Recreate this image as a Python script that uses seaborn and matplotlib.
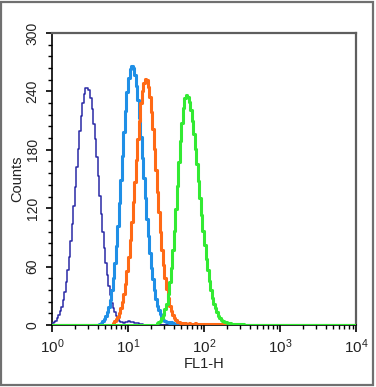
import numpy as np
import pandas as pd
import matplotlib
matplotlib.use("Agg")
import matplotlib.pyplot as plt
from matplotlib.patches import Rectangle
from matplotlib.ticker import LogLocator, MultipleLocator, NullFormatter
import seaborn as sns

# ---- data: histogram counts per channel bin (log10 scale, 0..4 decades, 200 bins) ----
n_bins = 200
log_lo, log_hi = 0.0, 4.0

navy_start = 0     # first bin index
navy_counts = [2, 3, 4, 7, 10, 14, 19, 26, 34, 44, 56, 70, 86, 104, 122, 142, 162,
               181, 199, 215, 228, 237, 243, 244, 241, 233, 222, 207, 191, 173, 153,
               133, 114, 96, 79, 64, 51, 40, 31, 23, 17, 13, 9, 6, 4, 3, 3, 2, 3, 3,
               4, 3, 3, 3, 2, 2, 2, 1, 1, 1]

lightblue_start = 31
lightblue_counts = [1, 2, 4, 6, 9, 13, 18, 26, 36, 48, 64, 81, 102, 125, 149, 174,
                    198, 220, 239, 254, 263, 266, 264, 257, 246, 231, 213, 193, 172,
                    151, 130, 109, 91, 74, 59, 47, 36, 27, 20, 15, 11, 8, 5, 4, 3, 3,
                    2, 3, 2, 1, 1]

orange_start = 40
orange_counts = [2, 4, 6, 8, 12, 17, 24, 32, 42, 55, 70, 87, 106, 126, 147, 170, 191,
                 210, 228, 240, 249, 253, 252, 245, 234, 219, 201, 181, 159, 137, 116,
                 96, 77, 62, 48, 37, 28, 20, 14, 10, 7, 5, 3, 3, 2, 2, 1, 2, 1, 1, 2,
                 1, 1, 1, 2, 1, 1, 1, 1, 1, 1, 1, 1, 1, 1, 1, 1, 1, 1, 1, 1, 1, 1, 1]

green_start = 69
green_counts = [2, 3, 4, 7, 10, 16, 22, 32, 44, 59, 77, 97, 119, 143, 167, 189, 208,
                223, 233, 236, 234, 229, 221, 210, 196, 181, 165, 148, 130, 113, 97,
                82, 68, 56, 45, 36, 28, 22, 17, 13, 9, 7, 5, 4, 3, 3, 2, 2, 2, 1, 1,
                1, 1, 1, 1, 1, 1]

series_names = ["navy", "lightblue", "orange", "green"]
series_colors = ["#2a2aa6", "#1f8fe6", "#ff6a16", "#33ea33"]
series_widths = [1.1, 2.2, 2.2, 2.2]

yticks_major = [0, 60, 120, 180, 240, 300]
x_label = "FL1-H"
y_label = "Counts"

# ---- build long table ----
centers = log_lo + (np.arange(n_bins) + 0.5) * (log_hi - log_lo) / n_bins
rows = []
for name, start, counts in [("navy", navy_start, navy_counts),
                            ("lightblue", lightblue_start, lightblue_counts),
                            ("orange", orange_start, orange_counts),
                            ("green", green_start, green_counts)]:
    full = np.zeros(n_bins)
    full[start:start + len(counts)] = counts
    for c, v in zip(centers, full):
        rows.append({"series": name, "fl1": 10 ** c, "count": v})
df = pd.DataFrame(rows)

# ---- style ----
sns.set_style("ticks")
plt.rcParams["font.family"] = ["Liberation Sans", "DejaVu Sans"]
plt.rcParams["mathtext.fontset"] = "custom"
plt.rcParams["mathtext.rm"] = "Liberation Sans"
plt.rcParams["mathtext.it"] = "Liberation Sans"
plt.rcParams["mathtext.default"] = "regular"

fig = plt.figure(figsize=(3.76, 3.87), dpi=100)
ax = fig.add_axes([52 / 376, 1 - 325 / 387, (356 - 52) / 376, (325 - 33) / 387])

for name, color, lw in zip(series_names, series_colors, series_widths):
    sub = df[df["series"] == name]
    sns.histplot(data=sub, x="fl1", weights="count", bins=n_bins,
                 binrange=(log_lo, log_hi), log_scale=True, element="step",
                 fill=False, color=color, linewidth=lw, ax=ax, zorder=3)

ax.set_xlim(1, 1e4)
ax.set_ylim(0, 300)
ax.set_yticks(yticks_major)
ax.yaxis.set_minor_locator(MultipleLocator(12))
ax.xaxis.set_major_locator(LogLocator(base=10, numticks=10))
ax.xaxis.set_minor_locator(LogLocator(base=10, subs=np.arange(2, 10), numticks=20))
ax.xaxis.set_minor_formatter(NullFormatter())

for lab in ax.get_yticklabels():
    lab.set_rotation(90)
    lab.set_va("center")
ax.tick_params(axis="y", which="major", length=4, width=1.2, labelsize=10, pad=5, colors="black")
ax.tick_params(axis="y", which="minor", length=3, width=1.0, colors="black")
ax.tick_params(axis="x", which="major", length=5, width=1.2, labelsize=11, pad=4, colors="black")
ax.tick_params(axis="x", which="minor", length=3, width=1.0, colors="black")
for lab in ax.get_xticklabels() + ax.get_yticklabels():
    lab.set_color("#222222")

ax.set_xlabel(x_label, fontsize=10.5, labelpad=1, color="#222222")
ax.set_ylabel(y_label, fontsize=10.5, labelpad=1, color="#222222")

for side in ["left", "bottom"]:
    ax.spines[side].set_color("black")
    ax.spines[side].set_linewidth(1.2)
for side in ["top", "right"]:
    ax.spines[side].set_visible(True)
    ax.spines[side].set_color("#5e5e5e")
    ax.spines[side].set_linewidth(1.6)

# outer frame
fig.add_artist(Rectangle((1.5 / 376, 1 - 384.5 / 387), (372.5 - 1.5) / 376, (384.5 - 1.5) / 387,
                         transform=fig.transFigure, fill=False, edgecolor="#707070",
                         linewidth=1.6))

fig.savefig("out.png", dpi=100)
